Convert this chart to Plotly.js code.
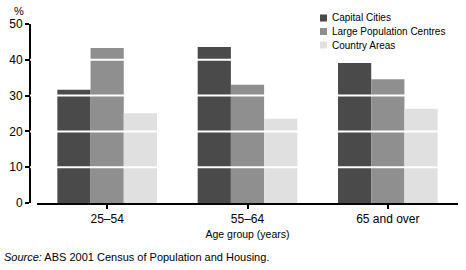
<!DOCTYPE html>
<html>
<head>
<meta charset="utf-8">
<script src="https://cdn.plot.ly/plotly-3.0.1.min.js"></script>
<style>
  html, body { margin: 0; padding: 0; background: #fff; }
  #chart { width: 466px; height: 270px; }
</style>
</head>
<body>
<div id="chart"></div>
<script>
// age groups on the x axis
const ageGroups = ['25–54', '55–64', '65 and over'];

// per cent of people, by area
const capitalCities = [31.6, 43.6, 39.1];
const largeCentres = [43.3, 33.0, 34.6];
const countryAreas = [25.1, 23.5, 26.3];

const seriesNames = ['Capital Cities', 'Large Population Centres', 'Country Areas'];
const seriesColors = ['#4a4a4a', '#8f8f8f', '#e0e0e0'];
const gridValues = [10, 20, 30, 40];

const FONT = '"Liberation Sans Narrow", "Liberation Sans", Arial, sans-serif';

// plot area in pixels, used to place the legend and notes
const W = 466, H = 270;
const M = { l: 30, r: 8, t: 24, b: 67 };
const pw = W - M.l - M.r, ph = H - M.t - M.b;
const px = x => (x - M.l) / pw;
const py = y => (H - M.b - y) / ph;

const traces = [capitalCities, largeCentres, countryAreas].map((vals, i) => ({
  type: 'bar',
  x: ageGroups,
  y: vals,
  name: seriesNames[i],
  marker: { color: seriesColors[i], line: { width: 0 } },
  hoverinfo: 'skip'
}));

// white grid lines sit on top of the bars
const shapes = gridValues.map(v => ({
  type: 'line',
  xref: 'paper', yref: 'y',
  x0: 0, x1: 1, y0: v, y1: v,
  line: { color: '#ffffff', width: 2 },
  layer: 'above'
}));

const annotations = [
  {
    xref: 'paper', yref: 'paper',
    x: px(19), y: py(11), xanchor: 'center', yanchor: 'middle',
    text: '%', showarrow: false,
    font: { family: FONT, size: 11 }
  },
  {
    xref: 'paper', yref: 'paper',
    x: px(2), y: py(257), xanchor: 'left', yanchor: 'middle',
    text: '<i>Source:</i> ABS 2001 Census of Population and Housing.',
    showarrow: false,
    font: { family: FONT, size: 11 }
  }
];

// legend, hand placed
seriesNames.forEach((name, i) => {
  const cy = 18 + i * 13.5;
  shapes.push({
    type: 'rect', xref: 'paper', yref: 'paper',
    x0: px(320), x1: px(327), y0: py(cy + 3.5), y1: py(cy - 3.5),
    fillcolor: seriesColors[i], line: { width: 0 }, layer: 'above'
  });
  annotations.push({
    xref: 'paper', yref: 'paper',
    x: px(330), y: py(cy), xanchor: 'left', yanchor: 'middle',
    text: name, showarrow: false,
    font: { family: FONT, size: 10 }
  });
});

Plotly.newPlot('chart', traces, {
  width: W,
  height: H,
  margin: M,
  paper_bgcolor: '#fff',
  plot_bgcolor: '#fff',
  font: { family: FONT, size: 11, color: '#000' },
  barmode: 'group',
  bargap: 0.29,
  bargroupgap: 0,
  showlegend: false,
  xaxis: {
    domain: [px(37), 1],
    showgrid: false,
    zeroline: false,
    showline: true,
    linecolor: '#000',
    linewidth: 2,
    ticks: 'outside',
    ticklen: 4,
    tickwidth: 2,
    tickcolor: '#000',
    tickfont: { family: FONT, size: 12 },
    title: { text: 'Age group (years)', font: { family: FONT, size: 10.5 }, standoff: 5 },
    fixedrange: true
  },
  yaxis: {
    range: [0, 50],
    anchor: 'free',
    position: 0,
    tickvals: [0, 10, 20, 30, 40, 50],
    showgrid: false,
    zeroline: false,
    showline: true,
    linecolor: '#000',
    linewidth: 2,
    ticks: 'outside',
    ticklen: 4,
    tickwidth: 2,
    tickcolor: '#000',
    tickfont: { family: FONT, size: 12 },
    fixedrange: true
  },
  shapes,
  annotations
}, { displayModeBar: false, staticPlot: true });
</script>
</body>
</html>
